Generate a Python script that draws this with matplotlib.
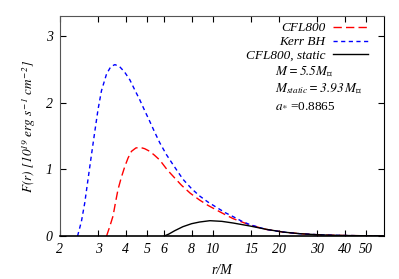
import numpy as np
import matplotlib
matplotlib.use("Agg")
import matplotlib.pyplot as plt
from matplotlib.ticker import FixedLocator, NullLocator

plt.rcParams["font.family"] = ["Liberation Serif", "DejaVu Serif"]
plt.rcParams["font.style"] = "italic"
plt.rcParams["mathtext.fontset"] = "stix"

# CFL800 (rotating)
r_cfl = [3.27, 3.38, 3.50, 3.60, 3.69, 3.82, 3.96, 4.10, 4.25, 4.45, 4.64, 4.88, 5.15,
         5.42, 5.72, 6.2, 6.7, 7.2, 7.9, 8.7, 9.5, 10.4, 11.4, 12.4, 13.6, 14.8, 17.5,
         20.9, 25, 30, 35, 40, 50, 60]
F_cfl = [0.0, 0.14, 0.30, 0.52, 0.70, 0.88, 1.04, 1.17, 1.27, 1.32, 1.33, 1.31, 1.27,
         1.21, 1.14, 0.99, 0.87, 0.76, 0.64, 0.54, 0.46, 0.39, 0.32, 0.26, 0.21, 0.165, 0.10,
         0.06, 0.035, 0.02, 0.012, 0.008, 0.004, 0.002]

# Kerr BH
r_kerr = [2.41, 2.51, 2.60, 2.69, 2.79, 2.89, 2.99, 3.10, 3.27, 3.42, 3.57, 3.75, 3.95,
          4.18, 4.40, 4.64, 4.90, 5.15, 5.42, 5.72, 6.14, 6.58, 7.31, 8.0, 8.71, 9.5,
          10.4, 11.4, 12.4, 13.6, 14.8, 17.5, 20.9, 25, 30, 35, 40, 50, 60]
F_kerr = [0.0, 0.22, 0.50, 0.85, 1.22, 1.57, 1.90, 2.18, 2.43, 2.54, 2.57, 2.54, 2.46,
          2.34, 2.19, 2.04, 1.87, 1.72, 1.56, 1.40, 1.22, 1.07, 0.85, 0.71, 0.60, 0.51,
          0.43, 0.35, 0.29, 0.22, 0.17, 0.10, 0.06, 0.035, 0.02, 0.012, 0.008, 0.004, 0.002]

# CFL800, static
r_stat = [6.0, 6.3, 6.7, 7.3, 8.0, 8.7, 9.7, 11.0, 12.4, 14.8, 17.6, 20.9, 25, 30, 35,
          40, 50, 60]
F_stat = [0.0, 0.03, 0.08, 0.14, 0.185, 0.21, 0.23, 0.22, 0.195, 0.15, 0.10, 0.06, 0.035,
          0.02, 0.012, 0.008, 0.004, 0.002]

xticks = [2, 3, 4, 5, 6, 8, 10, 15, 20, 30, 40, 50]
yticks = [0, 1, 2, 3]

fig = plt.figure(figsize=(3.99, 2.79), dpi=100)
ax = fig.add_axes([0.150, 0.154, 0.812, 0.789])

ax.plot(r_cfl, F_cfl, color="#ff0000", lw=1.0, dashes=(6, 3), label="CFL800")
ax.plot(r_kerr, F_kerr, color="#0000ff", lw=1.0, dashes=(3, 2.5), label="Kerr BH")
ax.plot(r_stat, F_stat, color="black", lw=1.0, label="CFL800, static")

ax.set_xscale("log")
ax.set_xlim(2, 60.5)
ax.set_ylim(0, 3.3)
ax.xaxis.set_major_locator(FixedLocator(xticks))
ax.xaxis.set_minor_locator(NullLocator())
ax.set_xticklabels([str(t) for t in xticks])
ax.set_yticks(yticks)
ax.set_yticklabels([str(t) for t in yticks])
ax.tick_params(direction="in", length=4, width=0.8, top=True, right=True,
               labelsize=10, pad=5)

for s in ["top", "left"]:
    ax.spines[s].set_color("#555555")
for s in ["bottom", "right"]:
    ax.spines[s].set_color("black")
ax.spines["bottom"].set_linewidth(1.2)

ax.set_xlabel("r/M", fontsize=10, labelpad=6)
ax.set_ylabel(r"$F(r)\ [10^{19}\ erg\ s^{-1}\ cm^{-2}]$", fontsize=9.5, labelpad=6)

leg = ax.legend(loc="upper right", frameon=False, markerfirst=False, fontsize=9.5,
                handlelength=2.65, handletextpad=0.6, labelspacing=0.12,
                borderpad=0, borderaxespad=0, bbox_to_anchor=(0.951, 0.972))

ax.text(0.665, 0.745, r"$M = 5.5M_{\odot}$", transform=ax.transAxes, fontsize=9.5,
        va="center")
ax.text(0.665, 0.668, r"$M_{static} = 3.93\,M_{\odot}$", transform=ax.transAxes,
        fontsize=9.5, va="center")
ax.text(0.665, 0.591, r"$a_{*}$ =0.8865", transform=ax.transAxes, fontsize=9.5,
        fontstyle="normal", va="center")

fig.savefig("out.png", dpi=100)
